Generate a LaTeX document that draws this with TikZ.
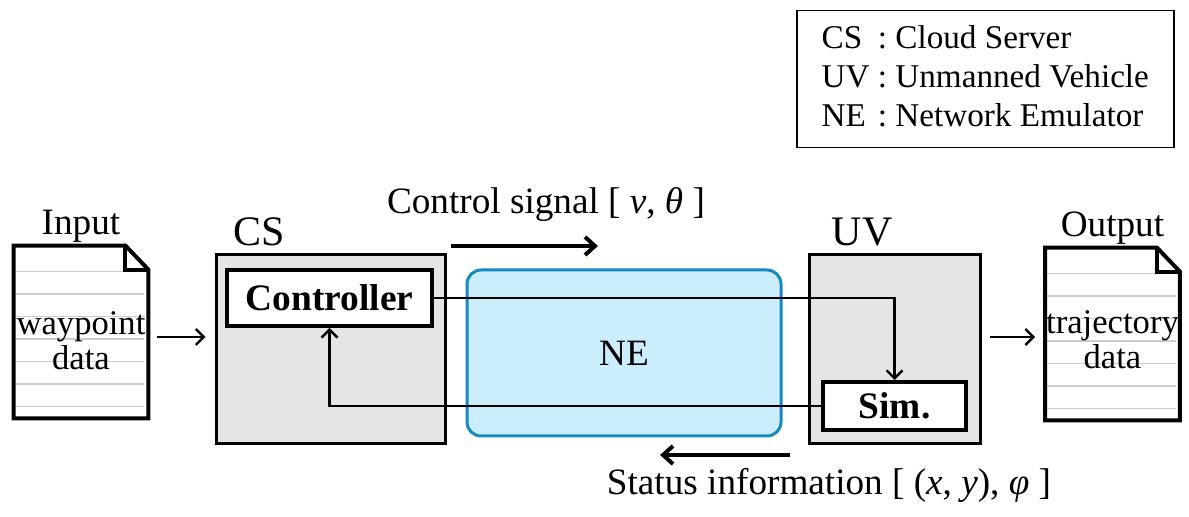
\documentclass[tikz,border=0pt]{standalone}
\usepackage{fontspec}
\setmainfont{Liberation Serif}
\usetikzlibrary{arrows.meta}
\usetikzlibrary{positioning}
\definecolor{boxgray}{RGB}{229,229,229}
\definecolor{neblue}{RGB}{204,237,251}
\definecolor{needge}{RGB}{22,138,192}
\definecolor{rulegray}{RGB}{205,205,205}

\begin{document}
\begin{tikzpicture}[x=0.5pt,y=-0.5pt,every node/.style={inner sep=0pt,font=\fontsize{18.6}{20}\selectfont},
	box/.style={draw,line width=1.5pt,fill=boxgray,minimum width=114.5pt,minimum height=94.5pt},
	inbox/.style={draw,line width=2pt,fill=white,font=\fontsize{18.7}{20}\selectfont\bfseries},
	doc/.style={minimum width=67pt,minimum height=86pt},
	doctxt/.style={align=center,font=\fontsize{17.3}{17.3}\selectfont},
	biglbl/.style={font=\fontsize{21}{22}\selectfont},
	arr/.style={line width=1.2pt,-{Straight Barb[length=4pt,width=8pt]}},
	bigarr/.style={line width=2pt,-{Straight Barb[length=5pt,width=9pt]}}]
	
	\useasboundingbox (0,0) rectangle (1189,517);
	
	% legend
	\node[draw,line width=0.75pt,anchor=north west,minimum width=188.5pt,minimum height=68.5pt,
		font=\fontsize{16.6}{19.5}\selectfont] (legend) at (796,10)
		{\begin{tabular}{@{}l@{ : }l@{}}CS&Cloud Server\\UV&Unmanned Vehicle\\NE&Network Emulator\end{tabular}};
	
	% blocks
	\node[box] (cs) at (330.5,349.5) {};
	\node[box,minimum width=85.5pt] (uv) at (894.5,349.5) {};
	\node[draw=needge,fill=neblue,line width=1.5pt,rounded corners=7pt,minimum width=157pt,minimum height=83pt] (ne) at (624,353) {NE};
	\node[inbox,minimum width=102.5pt,minimum height=28pt] (ctrl) at (329.5,298) {Controller};
	\node[inbox,minimum width=71.5pt,minimum height=24pt] (sim) at (894.5,406) {Sim.};
	\node[biglbl,anchor=base west] (cslbl) at ([xshift=9.5pt,yshift=4pt]cs.north west) {CS};
	\node[biglbl,anchor=base west] (uvlbl) at ([xshift=12pt,yshift=4pt]uv.north west) {UV};
	
	\draw[arr] (ctrl.east) -| (sim.north);
	\draw[arr] (sim.west) -| (ctrl.south);
	
	% files
	\node[doc] (inp) at (81,332) {};
	\node[doc] (out) at (1112.5,334) {};
	\foreach \d in {inp,out} {
		\foreach \k in {0,...,6}
			\draw[rulegray,line width=0.7pt] ([xshift=1pt,yshift={-(13+11.25*\k)*1pt}]\d.north west) -- ([xshift=-2pt,yshift={-(13+11.25*\k)*1pt}]\d.north east);
		\draw[line width=2pt,line join=miter] (\d.north west) -- ([xshift=-11.5pt]\d.north east) -- ([yshift=-12pt]\d.north east) -- (\d.south east) -- (\d.south west) -- cycle;
		\draw[line width=2pt] ([xshift=-11.5pt]\d.north east) -- ([xshift=-11.5pt,yshift=-12pt]\d.north east) -- ([yshift=-12pt]\d.north east);
	}
	\node[doctxt] (inptxt) at ([yshift=-4.25pt]inp.center) {waypoint\\data};
	\node[doctxt] (outtxt) at ([yshift=-2.75pt]out.center) {trajectory\\data};
	\node[above=1.5pt of inp] (inlbl) {Input};
	\node[above=1.5pt of out] (outlbl) {Output};
	
	\draw[arr] ([xshift=4.5pt,yshift=-2.5pt]inp.east) -- ([xshift=-4.5pt,yshift=-2.5pt]inp.east -| cs.west);
	\draw[arr] ([xshift=4pt,yshift=-1.5pt]out.west -| uv.east) -- ([xshift=-5pt,yshift=-1.5pt]out.west);
	
	% signals
	\node[anchor=base] (ctlsig) at (546,214) {Control signal [ \textit{v}, \textit{θ} ]};
	\coordinate (cs1) at (451,246);
	\coordinate (cs2) at (598,246);
	\draw[bigarr] (cs1) -- (cs2);
	\node[anchor=base] (stat) at (829,495) {Status information [ (\textit{x}, \textit{y}), \textit{φ} ]};
	\coordinate (st1) at (790,455);
	\coordinate (st2) at (660,455);
	\draw[bigarr] (st1) -- (st2);
	
\end{tikzpicture}
\end{document}
